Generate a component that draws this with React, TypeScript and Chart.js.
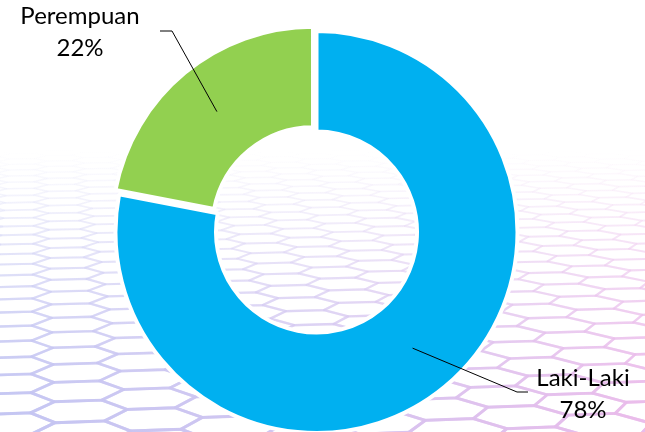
import React, { useEffect, useRef } from 'react';
import { Chart, registerables } from 'chart.js';

Chart.register(...registerables);

// ---- data ----
const categories: string[] = ['Laki-Laki', 'Perempuan'];
const values: number[] = [78, 22];
const colors: string[] = ['#00B0F0', '#92D050'];
const explode: number[] = [0, 22];

// ---- label layout (leader line elbow/end and text anchor) ----
const labelLayout = [
  { textX: 583, textY: 386, elbowX: 517, elbowY: 392, endX: 528 },
  { textX: 80, textY: 24, elbowX: 172, elbowY: 31, endX: 160 },
];

const hexBackground = {
  id: 'hexBackground',
  beforeDraw(chart: any) {
    const ctx: CanvasRenderingContext2D = chart.ctx;
    const W = chart.width;
    const H = chart.height;
    ctx.save();
    ctx.fillStyle = '#ffffff';
    ctx.fillRect(0, 0, W, H);
    const yh = -100;
    const F = 532;
    const G = 1250;
    const cx0 = 322;
    const s = 0.04;
    const squash = 0.62;
    const th = (8 * Math.PI) / 180;
    const c = Math.cos(th);
    const sn = Math.sin(th);
    const sq3 = Math.sqrt(3);
    const grad = ctx.createLinearGradient(0, 0, W, 0);
    grad.addColorStop(0, 'rgb(194,196,242)');
    grad.addColorStop(0.5, 'rgb(210,196,240)');
    grad.addColorStop(1, 'rgb(234,186,234)');
    ctx.strokeStyle = grad;
    ctx.lineJoin = 'round';
    const proj = (u: number, v: number) => {
      const uu = u * c - v * sn;
      const vv = u * sn + v * c;
      const z = 0.95 + vv * squash;
      return [cx0 + (G * uu) / z, yh + F / z, z];
    };
    for (let i = -34; i <= 34; i++) {
      for (let j = -12; j <= 90; j++) {
        const cu = i * 1.5 * s;
        const cv = j * sq3 * s + (Math.abs(i) % 2 === 1 ? (sq3 * s) / 2 : 0);
        const pts: number[][] = [];
        let bad = false;
        for (let k = 0; k < 6; k++) {
          const a = (k * Math.PI) / 3;
          const p = proj(cu + s * Math.cos(a), cv + s * Math.sin(a));
          if (p[2] <= 0.25) bad = true;
          pts.push(p);
        }
        if (bad) continue;
        const cp = proj(cu, cv);
        if (cp[1] < 130 || cp[1] > H + 60 || cp[0] < -120 || cp[0] > W + 120) continue;
        const t = Math.max(0, Math.min(1, (cp[1] - 150) / 270));
        ctx.globalAlpha = Math.pow(t, 1.2) * 0.85;
        ctx.lineWidth = 3 / cp[2];
        ctx.beginPath();
        ctx.moveTo(pts[0][0], pts[0][1]);
        for (let k = 1; k < 6; k++) ctx.lineTo(pts[k][0], pts[k][1]);
        ctx.closePath();
        ctx.stroke();
      }
    }
    ctx.restore();
  },
};

const leaderLabels = {
  id: 'leaderLabels',
  afterDatasetsDraw(chart: any) {
    const ctx: CanvasRenderingContext2D = chart.ctx;
    const meta = chart.getDatasetMeta(0);
    ctx.save();
    meta.data.forEach((arc: any, i: number) => {
      const p = arc.getProps(['x', 'y', 'startAngle', 'endAngle', 'innerRadius', 'outerRadius'], true);
      const mid = (p.startAngle + p.endAngle) / 2;
      const r = (p.innerRadius + p.outerRadius) / 2 + (explode[i] || 0) / 4;
      const ax = p.x + Math.cos(mid) * r;
      const ay = p.y + Math.sin(mid) * r;
      const L = labelLayout[i];
      ctx.strokeStyle = '#000000';
      ctx.lineWidth = 1;
      ctx.beginPath();
      ctx.moveTo(ax, ay);
      ctx.lineTo(L.elbowX, L.elbowY);
      ctx.lineTo(L.endX, L.elbowY);
      ctx.stroke();
      ctx.fillStyle = '#000000';
      ctx.font = '24px Lato';
      ctx.textAlign = 'center';
      ctx.textBaseline = 'alphabetic';
      ctx.fillText(categories[i], L.textX, L.textY);
      ctx.fillText(values[i] + '%', L.textX, L.textY + 32);
    });
    ctx.restore();
  },
};

export default function App() {
  const ref = useRef<HTMLCanvasElement>(null);
  useEffect(() => {
    if (!ref.current) return;
    const chart = new Chart(ref.current, {
      type: 'doughnut',
      data: {
        labels: categories,
        datasets: [
          {
            data: values,
            backgroundColor: colors,
            borderColor: '#ffffff',
            borderWidth: 4,
            offset: explode,
            hoverOffset: 0,
          } as any,
        ],
      },
      options: {
        animation: false,
        responsive: false,
        radius: 201,
        cutout: '50%',
        rotation: 0,
        events: [],
        layout: { padding: { left: 0, right: 12, top: 32, bottom: 0 } },
        plugins: { legend: { display: false }, tooltip: { enabled: false } },
      } as any,
      plugins: [hexBackground, leaderLabels],
    });
    return () => chart.destroy();
  }, []);
  return (
    <div style={{ position: 'absolute', left: 0, top: 0, width: 645, height: 432 }}>
      <canvas ref={ref} width={645} height={432} style={{ display: 'block' }} />
    </div>
  );
}
